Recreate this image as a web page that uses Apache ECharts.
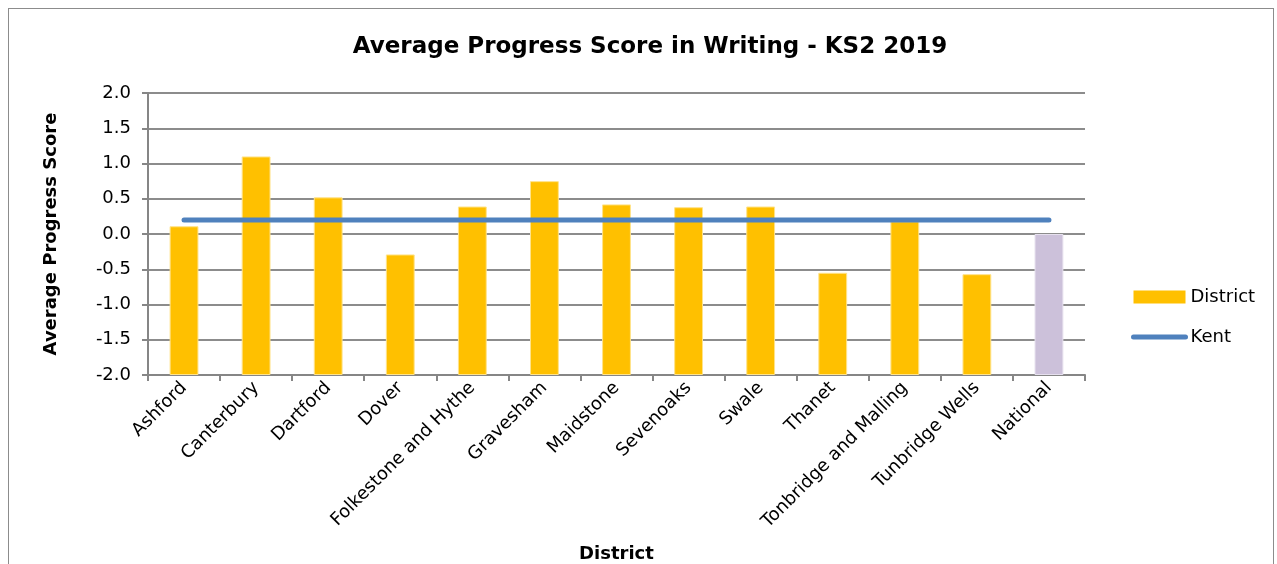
<!DOCTYPE html>
<html>
<head>
<meta charset="utf-8">
<script src="https://cdn.jsdelivr.net/npm/echarts@6/dist/echarts.min.js"></script>
<style>
  html, body { margin: 0; padding: 0; background: #fff; }
  #frame { position: absolute; left: 8px; top: 8px; width: 1266px; height: 600px; border: 1px solid #8c8c8c; box-sizing: border-box; }
  #chart { position: absolute; left: 0; top: 0; width: 1277px; height: 564px; }
</style>
</head>
<body>
<div id="frame"></div>
<div id="chart"></div>
<script>
// District names along the x axis
const districts = ['Ashford', 'Canterbury', 'Dartford', 'Dover', 'Folkestone and Hythe', 'Gravesham',
  'Maidstone', 'Sevenoaks', 'Swale', 'Thanet', 'Tonbridge and Malling', 'Tunbridge Wells', 'National'];
// Average progress score per district (last entry is the national figure)
const districtScores = [0.11, 1.10, 0.52, -0.29, 0.39, 0.75, 0.42, 0.38, 0.39, -0.55, 0.18, -0.57, 0.00];
// Kent-wide average, repeated across every category
const kentScore = [0.2, 0.2, 0.2, 0.2, 0.2, 0.2, 0.2, 0.2, 0.2, 0.2, 0.2, 0.2, 0.2];
// Value axis range
const yMin = -2.0, yMax = 2.0, yStep = 0.5;

const font = '"DejaVu Sans", Verdana, sans-serif';
const districtColor = '#ffc000';
const nationalColor = '#ccc1da';
const kentColor = '#4f81bd';

const barData = districtScores.map((v, i) => {
  const isNational = districts[i] === 'National';
  return {
    value: v,
    itemStyle: {
      color: isNational ? nationalColor : districtColor,
      borderColor: isNational ? '#e6e0ee' : '#ffe38a',
      borderWidth: 1
    }
  };
});

const chart = echarts.init(document.getElementById('chart'), null, { renderer: 'canvas' });
chart.setOption({
  animation: false,
  backgroundColor: 'transparent',
  title: {
    text: 'Average Progress Score in Writing - KS2 2019',
    left: 645, textAlign: 'center', top: 31,
    textStyle: { fontFamily: font, fontSize: 23, fontWeight: 'bold', color: '#000' }
  },
  legend: {
    orient: 'vertical',
    left: 1131, top: 288, padding: 0,
    itemWidth: 52, itemHeight: 13, itemGap: 22,
    textStyle: { fontFamily: font, fontSize: 18, color: '#000' },
    data: [
      { name: 'District', icon: 'rect', itemStyle: { color: districtColor, borderWidth: 0 } },
      { name: 'Kent', itemStyle: { opacity: 0 }, lineStyle: { color: kentColor, width: 5, cap: 'round' } }
    ]
  },
  grid: { left: 148, right: 192, top: 93, bottom: 189, outerBoundsMode: 'none' },
  xAxis: {
    type: 'category',
    data: districts,
    boundaryGap: true,
    name: 'District',
    nameLocation: 'middle',
    nameGap: 170,
    nameTextStyle: { fontFamily: font, fontSize: 18, fontWeight: 'bold', color: '#000' },
    axisLine: { onZero: false, lineStyle: { color: '#868686', width: 2 } },
    axisTick: { show: true, length: 6, alignWithLabel: false, lineStyle: { color: '#868686', width: 2 } },
    axisLabel: { rotate: 45, interval: 0, margin: 10, fontFamily: font, fontSize: 18, color: '#000' }
  },
  yAxis: {
    type: 'value',
    min: yMin, max: yMax, interval: yStep,
    startValue: yMin,
    name: 'Average Progress Score',
    nameLocation: 'middle',
    nameGap: 88,
    nameRotate: 90,
    nameTextStyle: { fontFamily: font, fontSize: 18, fontWeight: 'bold', color: '#000' },
    axisLine: { show: true, lineStyle: { color: '#868686', width: 2 } },
    axisTick: { show: true, length: 6, lineStyle: { color: '#868686', width: 2 } },
    axisLabel: {
      margin: 17, fontFamily: font, fontSize: 18, color: '#000',
      formatter: v => v.toFixed(1)
    },
    splitLine: { show: true, lineStyle: { color: '#8c8c8c', width: 2 } }
  },
  series: [
    {
      name: 'District',
      type: 'bar',
      data: barData,
      barWidth: '40%',
      itemStyle: { color: districtColor }
    },
    {
      name: 'Kent',
      type: 'line',
      data: kentScore,
      symbol: 'none',
      lineStyle: { color: kentColor, width: 5, cap: 'round' },
      itemStyle: { color: kentColor },
      z: 3
    }
  ]
});
</script>
</body>
</html>
